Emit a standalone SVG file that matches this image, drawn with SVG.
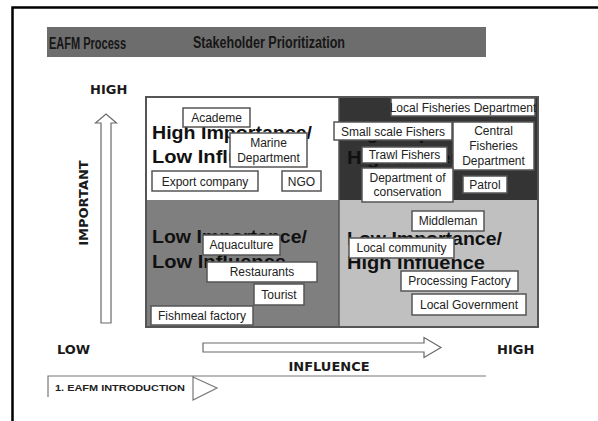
<svg xmlns="http://www.w3.org/2000/svg" width="598" height="421" viewBox="0 0 598 421">
  <style>
    .frame { fill: none; stroke: #000; stroke-width: 2.5; }
    .band { fill: #6d6d6d; }
    .head { font-family: "Liberation Sans", Arial, sans-serif; font-weight: bold; font-size: 16px; fill: #161616; }
    .axis { font-family: "DejaVu Sans", Verdana, sans-serif; font-weight: bold; font-size: 13px; fill: #1a1a1a; }
    .arrow { fill: #fff; stroke: #6a6a6a; stroke-width: 1.2; }
    .quad-title { font-family: "Liberation Sans", Arial, sans-serif; font-weight: bold; font-size: 19px; fill: #111; }
    .box rect { fill: #fff; stroke: #555; stroke-width: 1.5; }
    .box text { font-family: "Liberation Sans", Arial, sans-serif; font-size: 12px; fill: #222; text-anchor: middle; }
    .foot { fill: none; stroke: #777; stroke-width: 1.2; }
    .foot-text { font-family: "Liberation Sans", Arial, sans-serif; font-weight: bold; font-size: 9px; fill: #222; }
  </style>

  <!-- slide frame -->
  <path class="frame" d="M12.5 421 V7.5 H598"/>

  <!-- title band -->
  <g id="title-band">
    <rect class="band" x="47" y="27" width="439" height="30"/>
    <text class="head" x="49" y="48.5" textLength="77" lengthAdjust="spacingAndGlyphs">EAFM Process</text>
    <text class="head" x="193" y="47.5" textLength="152" lengthAdjust="spacingAndGlyphs">Stakeholder Prioritization</text>
  </g>

  <!-- quadrant backgrounds -->
  <g id="matrix">
    <rect x="146" y="97" width="193" height="103" fill="#ffffff"/>
    <rect x="339" y="97" width="199" height="103" fill="#343434"/>
    <rect x="146" y="200" width="193" height="127" fill="#7f7f7f"/>
    <rect x="339" y="200" width="199" height="127" fill="#c0c0c0"/>
    <line x1="339" y1="97" x2="339" y2="327" stroke="#555" stroke-width="1.5"/>
    <rect x="146" y="97" width="392" height="230" fill="none" stroke="#555" stroke-width="2"/>
  </g>

  <!-- quadrant titles -->
  <g id="quadrant-titles">
    <text class="quad-title" x="152" y="139" textLength="160" lengthAdjust="spacingAndGlyphs">High Importance/</text>
    <text class="quad-title" x="152" y="163" textLength="134" lengthAdjust="spacingAndGlyphs">Low Influence</text>
    <text class="quad-title" x="347" y="139" textLength="160" lengthAdjust="spacingAndGlyphs">High Importance/</text>
    <text class="quad-title" x="347" y="164" textLength="138" lengthAdjust="spacingAndGlyphs">High Influence</text>
    <text class="quad-title" x="152" y="243" textLength="155" lengthAdjust="spacingAndGlyphs">Low Importance/</text>
    <text class="quad-title" x="152" y="268" textLength="134" lengthAdjust="spacingAndGlyphs">Low Influence</text>
    <text class="quad-title" x="347" y="245" textLength="155" lengthAdjust="spacingAndGlyphs">Low Importance/</text>
    <text class="quad-title" x="347" y="269" textLength="138" lengthAdjust="spacingAndGlyphs">High Influence</text>
  </g>

  <!-- stakeholders: high importance / low influence -->
  <g id="academe" class="box">
    <rect x="183" y="108" width="67" height="19"/>
    <text x="216.5" y="122">Academe</text>
  </g>
  <g id="marine-department" class="box">
    <rect x="230" y="133" width="77" height="34"/>
    <text x="268.5" y="147">Marine</text>
    <text x="268.5" y="162">Department</text>
  </g>
  <g id="export-company" class="box">
    <rect x="152" y="171" width="106" height="20"/>
    <text x="205" y="185.5">Export company</text>
  </g>
  <g id="ngo" class="box">
    <rect x="282" y="171" width="39" height="20"/>
    <text x="301.5" y="185.5">NGO</text>
  </g>

  <!-- stakeholders: high importance / high influence -->
  <g id="local-fisheries-department" class="box">
    <rect x="391" y="98" width="144" height="18"/>
    <text x="463" y="111.5">Local Fisheries Department</text>
  </g>
  <g id="small-scale-fishers" class="box">
    <rect x="334" y="122" width="118" height="18"/>
    <text x="393" y="135.5">Small scale Fishers</text>
  </g>
  <g id="central-fisheries-department" class="box">
    <rect x="453" y="122" width="81" height="48"/>
    <text x="493.5" y="135">Central</text>
    <text x="493.5" y="150">Fisheries</text>
    <text x="493.5" y="164.5">Department</text>
  </g>
  <g id="trawl-fishers" class="box">
    <rect x="362" y="147" width="85" height="16"/>
    <text x="404.5" y="159">Trawl Fishers</text>
  </g>
  <g id="department-of-conservation" class="box">
    <rect x="362" y="168" width="91" height="34"/>
    <text x="407.5" y="182">Department of</text>
    <text x="407.5" y="196">conservation</text>
  </g>
  <g id="patrol" class="box">
    <rect x="463" y="176" width="44" height="17"/>
    <text x="485" y="189">Patrol</text>
  </g>

  <!-- stakeholders: low importance / low influence -->
  <g id="aquaculture" class="box">
    <rect x="203" y="235" width="77" height="20"/>
    <text x="241.5" y="249">Aquaculture</text>
  </g>
  <g id="restaurants" class="box">
    <rect x="207" y="262" width="110" height="20"/>
    <text x="262" y="276">Restaurants</text>
  </g>
  <g id="tourist" class="box">
    <rect x="254" y="284" width="50" height="21"/>
    <text x="279" y="299">Tourist</text>
  </g>
  <g id="fishmeal-factory" class="box">
    <rect x="151" y="306" width="102" height="19"/>
    <text x="202" y="320">Fishmeal factory</text>
  </g>

  <!-- stakeholders: low importance / high influence -->
  <g id="middleman" class="box">
    <rect x="412" y="211" width="72" height="20"/>
    <text x="448" y="225">Middleman</text>
  </g>
  <g id="local-community" class="box">
    <rect x="349" y="238" width="105" height="20"/>
    <text x="401.5" y="252">Local community</text>
  </g>
  <g id="processing-factory" class="box">
    <rect x="401" y="271" width="117" height="20"/>
    <text x="459.5" y="285">Processing Factory</text>
  </g>
  <g id="local-government" class="box">
    <rect x="412" y="294" width="114" height="21"/>
    <text x="469" y="309">Local Government</text>
  </g>

  <!-- axes -->
  <g id="connectors">
    <path class="arrow" d="M101 323 V123 H95.5 L106 114 L116.5 123 H111 V323 Z"/>
    <path class="arrow" d="M203 343 H424 V337.5 L441 347.5 L424 357.5 V352 H203 Z"/>
  </g>
  <g id="axis-labels">
    <text class="axis" x="90" y="94">HIGH</text>
    <text class="axis" x="88" y="203" text-anchor="middle" transform="rotate(-90 88 203)">IMPORTANT</text>
    <text class="axis" x="57" y="354">LOW</text>
    <text class="axis" x="497" y="354">HIGH</text>
    <text class="axis" x="329" y="371" text-anchor="middle">INFLUENCE</text>
  </g>

  <!-- footer navigation tab -->
  <g id="footer">
    <path class="foot" d="M48 397 V376 H486"/>
    <path class="foot" d="M193 376 V400 L217 388 L193 377"/>
    <text class="foot-text" x="55" y="391" textLength="130" lengthAdjust="spacingAndGlyphs">1. EAFM INTRODUCTION</text>
  </g>
</svg>
